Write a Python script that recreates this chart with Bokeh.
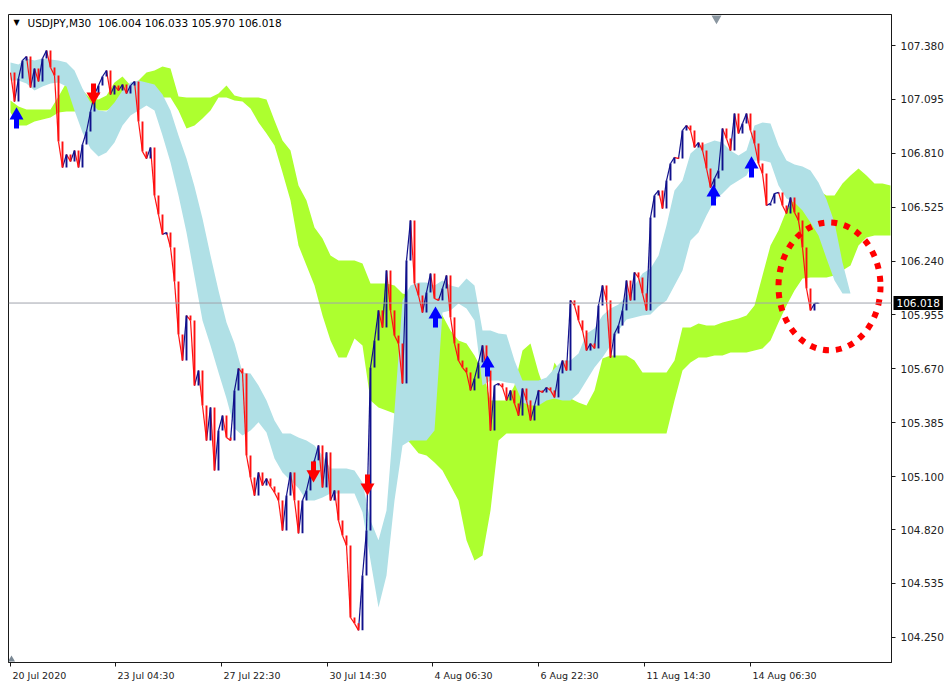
import numpy as np
from bokeh.plotting import figure
from bokeh.models import ColumnDataSource, Range1d, FixedTicker, Span, Label
from bokeh.embed import file_html
from bokeh.resources import INLINE

# ---------------- data ----------------
symbol_text = "USDJPY,M30\u00a0\u00a0106.004 106.033 105.970 106.018"
last_price = 106.018

# close prices, one per bar (bar index 0..202)
closes = [
    107.237, 107.084, 107.206, 107.301, 107.322, 107.158, 107.258, 107.190, 107.311, 107.354,
    107.264, 107.221, 106.872, 106.735, 106.804, 106.767, 106.825, 106.735, 106.857, 106.925,
    107.031, 107.121, 107.168, 107.216, 107.248, 107.121, 107.168, 107.142, 107.174, 107.126,
    107.168, 107.190, 106.978, 106.819, 106.782, 106.841, 106.587, 106.486, 106.381, 106.391,
    106.312, 106.132, 105.852, 105.714, 105.952, 105.926, 105.582, 105.661, 105.476, 105.291,
    105.466, 105.133, 105.344, 105.423, 105.307, 105.291, 105.556, 105.672, 105.646, 105.212,
    105.096, 105.000, 105.122, 105.053, 105.090, 105.048, 105.016, 104.974, 104.815, 105.000,
    105.122, 104.974, 104.800, 104.974, 105.027, 105.117, 105.186, 105.265, 105.043, 105.228,
    104.974, 105.027, 104.868, 104.789, 104.736, 104.355, 104.324, 104.287, 104.577, 104.815,
    105.677, 105.820, 105.979, 105.889, 106.190, 105.979, 105.846, 105.804, 105.593, 106.243,
    106.455, 106.122, 106.058, 105.968, 106.074, 106.174, 106.042, 106.032, 106.095, 106.164,
    105.942, 105.804, 105.714, 105.677, 105.651, 105.556, 105.619, 105.704, 105.794, 105.661,
    105.344, 105.582, 105.593, 105.572, 105.503, 105.556, 105.487, 105.423, 105.566, 105.503,
    105.397, 105.476, 105.556, 105.545, 105.572, 105.556, 105.519, 105.646, 105.714, 105.661,
    106.032, 106.005, 105.926, 105.873, 105.767, 105.804, 105.778, 106.005, 106.111, 106.032,
    105.730, 105.857, 105.899, 105.979, 106.137, 106.032, 106.180, 106.153, 106.069, 105.979,
    106.470, 106.587, 106.613, 106.518, 106.666, 106.756, 106.788, 106.782, 106.931, 106.957,
    106.931, 106.841, 106.867, 106.825, 106.730, 106.629, 106.677, 106.719, 106.941, 106.888,
    106.825, 107.020, 106.915, 106.968, 107.020, 106.931, 106.862, 106.756, 106.703, 106.534,
    106.545, 106.597, 106.603, 106.534, 106.492, 106.576, 106.497, 106.455, 106.312, 106.095,
    105.979, 106.016, 106.018,
]

# cloud lines, one value every 2 bars (bar index 0, 2, 4, ... 220)
blue_top = [
    107.290, 107.280, 107.311, 107.301, 107.311, 107.306, 107.301, 107.290, 107.248, 107.153,
    107.079, 107.036, 107.031, 107.079, 107.142, 107.184, 107.195, 107.184, 107.174, 107.121,
    107.036, 106.904, 106.783, 106.634, 106.465, 106.270, 106.084, 105.915, 105.804, 105.651,
    105.646, 105.582, 105.503, 105.397, 105.328, 105.328, 105.307, 105.291, 105.265, 105.212,
    105.143, 105.143, 105.143, 105.133, 105.069, 104.868, 104.763, 104.921, 105.450, 106.032,
    106.111, 106.127, 106.127, 106.111, 106.137, 106.111, 106.100, 106.148, 106.111, 105.873,
    105.873, 105.857, 105.852, 105.714, 105.609, 105.609, 105.609, 105.624, 105.672, 105.714,
    105.714, 105.751, 105.857, 105.884, 105.952, 105.989, 106.010, 106.053, 106.111, 106.174,
    106.201, 106.270, 106.428, 106.613, 106.666, 106.809, 106.846, 106.862, 106.878, 106.867,
    106.825, 106.798, 106.825, 106.957, 106.973, 106.968, 106.851, 106.772, 106.751, 106.740,
    106.719, 106.656, 106.566, 106.444, 106.233, 106.069, 106.069, 106.069, 106.069, 106.069,
    106.069,
]
blue_bottom = [
    107.195, 107.195, 107.179, 107.142, 107.163, 107.179, 107.184, 107.163, 107.036, 106.920,
    106.835, 106.793, 106.814, 106.867, 106.957, 107.010, 107.036, 107.063, 107.036, 106.904,
    106.761, 106.587, 106.391, 106.159, 105.926, 105.794, 105.651, 105.513, 105.355, 105.318,
    105.344, 105.387, 105.334, 105.196, 105.122, 105.080, 105.038, 104.974, 104.974, 104.990,
    105.011, 105.011, 105.011, 105.011, 104.911, 104.657, 104.408, 104.577, 104.974, 105.265,
    105.291, 105.291, 105.291, 105.344, 105.968, 105.979, 106.016, 105.989, 105.926, 105.582,
    105.609, 105.609, 105.598, 105.593, 105.492, 105.476, 105.476, 105.503, 105.513, 105.503,
    105.503, 105.540, 105.609, 105.677, 105.730, 105.794, 105.873, 105.931, 105.942, 105.952,
    105.958, 106.000, 106.032, 106.111, 106.190, 106.349, 106.391, 106.481, 106.560, 106.597,
    106.640, 106.666, 106.693, 106.772, 106.772, 106.761, 106.640, 106.571, 106.550, 106.508,
    106.444, 106.375, 106.254, 106.137, 106.069, 106.069, 106.069, 106.069, 106.069, 106.069,
    106.069,
]
green_top = [
    107.089, 107.058, 107.042, 107.042, 107.042, 107.042, 107.110, 107.184, 107.216, 107.142,
    107.100, 107.094, 107.116, 107.184, 107.216, 107.168, 107.195, 107.237, 107.248, 107.269,
    107.258, 107.110, 107.105, 107.105, 107.105, 107.105, 107.126, 107.168, 107.116, 107.105,
    107.105, 107.105, 107.094, 106.983, 106.878, 106.825, 106.640, 106.560, 106.418, 106.360,
    106.270, 106.243, 106.243, 106.243, 106.227, 106.122, 106.122, 106.122, 106.111, 106.069,
    106.058, 106.047, 106.042, 106.005, 105.952, 105.873, 105.820, 105.804, 105.741, 105.661,
    105.503, 105.503, 105.503, 105.582, 105.767, 105.804, 105.651, 105.529, 105.704, 105.635,
    105.513, 105.492, 105.476, 105.556, 105.725, 105.741, 105.741, 105.741, 105.714, 105.651,
    105.651, 105.651, 105.651, 105.714, 105.889, 105.889, 105.910, 105.899, 105.899, 105.915,
    105.926, 105.936, 105.952, 106.005, 106.164, 106.322, 106.402, 106.508, 106.571, 106.587,
    106.603, 106.613, 106.587, 106.587, 106.650, 106.693, 106.730, 106.693, 106.650, 106.650,
    106.640,
]
green_bottom = [
    107.026, 106.957, 106.957, 106.978, 106.989, 106.999, 107.026, 107.031, 107.031, 107.036,
    107.036, 107.036, 107.036, 107.058, 107.105, 107.105, 107.105, 107.105, 107.105, 107.105,
    107.105, 107.036, 106.941, 106.957, 106.994, 107.036, 107.105, 107.105, 107.089, 107.084,
    107.047, 106.973, 106.915, 106.851, 106.709, 106.560, 106.322, 106.217, 106.111, 105.952,
    105.820, 105.730, 105.730, 105.831, 105.794, 105.503, 105.466, 105.450, 105.434, 105.318,
    105.275, 105.223, 105.212, 105.175, 105.133, 105.053, 104.974, 104.763, 104.657, 104.683,
    104.921, 105.291, 105.328, 105.328, 105.328, 105.328, 105.328, 105.328, 105.328, 105.328,
    105.328, 105.328, 105.328, 105.328, 105.328, 105.328, 105.328, 105.328, 105.328, 105.328,
    105.328, 105.328, 105.328, 105.503, 105.661, 105.704, 105.730, 105.730, 105.741, 105.741,
    105.757, 105.757, 105.757, 105.767, 105.778, 105.820, 105.915, 106.005, 106.084, 106.148,
    106.153, 106.153, 106.153, 106.164, 106.190, 106.217, 106.322, 106.365, 106.375, 106.375,
    106.375,
]

# signal arrows: bar index and price at arrow tip
buy_bars = [1.5, 106.25, 119.25, 175.75, 185.25]
buy_prices = [107.042, 105.989, 105.730, 106.634, 106.783]
sell_bars = [20.75, 75.75, 89.25]
sell_prices = [107.079, 105.080, 105.011]

# annotation circle (bar index / price)
circle_bar, circle_price = 204.75, 106.106
circle_w_bars, circle_h_price = 25.5, 0.677

# axis ticks
price_ticks = [104.250, 104.535, 104.820, 105.100, 105.385, 105.670,
               105.955, 106.240, 106.525, 106.810, 107.095, 107.380]
date_ticks = [0, 26.25, 52.75, 79.25, 105.5, 132, 158.5, 185]
date_labels = ["20 Jul 2020", "23 Jul 04:30", "27 Jul 22:30", "30 Jul 14:30",
               "4 Aug 06:30", "6 Aug 22:30", "11 Aug 14:30", "14 Aug 06:30"]
shift_bar = 176.5

# ---------------- styling ----------------
UP = "#10108c"
DOWN = "#ff1010"
BLUE_CLOUD = "#b0e0e6"
GREEN_CLOUD = "#adff2f"
FONT = "DejaVu Sans"
AX = "#1a1a1a"
DATE_FS = 9.5

X0, X1 = -0.5, 220.25
Y0, Y1 = 104.117, 107.544
FW, FH = 883, 648
ppx = (Y1 - Y0) / FH          # price per screen pixel
bpx = (X1 - X0) / FW          # bars per screen pixel

p = figure(frame_width=FW, frame_height=FH, output_backend="svg", toolbar_location=None,
           x_range=Range1d(X0, X1), y_range=Range1d(Y0, Y1),
           x_axis_location="below", y_axis_location="right",
           min_border_left=8, min_border_top=14, min_border_bottom=0, min_border_right=2,
           background_fill_color="white", border_fill_color="white")
p.grid.visible = False
p.outline_line_color = AX
p.outline_line_width = 1

# right price axis
ya = p.yaxis[0]
ya.ticker = FixedTicker(ticks=price_ticks)
ya.major_label_overrides = {t: f"{t:.3f}" for t in price_ticks}
ya.major_label_text_font = FONT
ya.major_label_text_font_size = "10.5px"
ya.major_label_text_color = "#222222"
ya.major_tick_in = 0
ya.major_tick_out = 4
ya.major_label_standoff = 5
ya.minor_tick_line_color = None
ya.axis_line_color = AX
ya.major_tick_line_color = AX

# bottom time axis: tick marks at the dates (minor ticks), left-aligned labels
# (labels are centred by Bokeh, so they sit half a label width to the right)
CW = {"0": .636, "1": .636, "2": .636, "3": .636, "4": .636, "5": .636, "6": .636,
      "7": .636, "8": .636, "9": .636, " ": .318, ":": .337, "J": .295, "u": .634,
      "l": .278, "A": .684, "g": .635}
def text_w(s, fs):
    return sum(CW.get(ch, 0.6) for ch in s) * fs
label_pos = [round(t + (2 + text_w(lab, DATE_FS) / 2) * bpx, 4)
             for t, lab in zip(date_ticks, date_labels)]
xa = p.xaxis[0]
xa.ticker = FixedTicker(ticks=label_pos, minor_ticks=date_ticks)
xa.major_label_overrides = {pos: lab for pos, lab in zip(label_pos, date_labels)}
xa.major_label_text_font = FONT
xa.major_label_text_font_size = f"{DATE_FS}px"
xa.major_label_text_color = "#222222"
xa.major_tick_line_color = None
xa.major_tick_in = 0
xa.major_tick_out = 4
xa.major_label_standoff = 3
xa.minor_tick_in = 0
xa.minor_tick_out = 4
xa.minor_tick_line_color = AX
xa.axis_line_color = AX

# clouds
cloud_x = np.arange(len(blue_top)) * 2
p.varea(x=cloud_x, y1=green_top, y2=green_bottom, fill_color=GREEN_CLOUD, fill_alpha=1)
p.varea(x=cloud_x, y1=blue_top, y2=blue_bottom, fill_color=BLUE_CLOUD, fill_alpha=1)

# bid line
p.add_layout(Span(location=last_price, dimension="width", line_color="#a0a4ac", line_width=1))

# price bars: open = previous close
c = np.array(closes)
bars = np.arange(len(c))
cols = [UP if b >= a else DOWN for a, b in zip(c[:-1], c[1:])]
src = ColumnDataSource(dict(x0=bars[:-1], x1=bars[1:], y0=c[:-1], y1=c[1:], col=cols))
p.segment(x0="x0", y0="y0", x1="x1", y1="y1", line_color="col", line_width=1.2, source=src)
p.segment(x0="x1", y0="y0", x1="x1", y1="y1", line_color="col", line_width=1.9, source=src)

# arrows
bb = np.array(buy_bars); bp = np.array(buy_prices)
p.rect(x=bb, y=bp - 14 * ppx, width=5, height=10, width_units="screen", height_units="screen",
       fill_color="#0000ff", line_color=None)
p.scatter(x=bb, y=bp - 6 * ppx, marker="triangle", size=14, fill_color="#0000ff", line_color=None)
sb = np.array(sell_bars); sp = np.array(sell_prices)
p.rect(x=sb, y=sp + 14 * ppx, width=5, height=10, width_units="screen", height_units="screen",
       fill_color="#ff0000", line_color=None)
p.scatter(x=sb, y=sp + 6 * ppx, marker="inverted_triangle", size=14, fill_color="#ff0000", line_color=None)

# dotted red circle
p.ellipse(x=[circle_bar], y=[circle_price], width=[circle_w_bars], height=[circle_h_price],
          fill_color=None, line_color="#ff0000", line_width=6, line_dash="6 7")

# chart shift marker and corner marker
p.scatter(x=[shift_bar], y=[Y1 - 4 * ppx], marker="inverted_triangle", size=10,
          fill_color="#8a96a0", line_color=None)
p.scatter(x=[X0 + 3 * bpx], y=[Y0 + 3 * ppx], marker="triangle", size=7,
          fill_color="#7a8894", line_color=None)

# header
p.add_layout(Label(x=X0, y=Y1, x_offset=5, y_offset=-8, text="\u25bc", text_font=FONT,
                   text_font_size="8px", text_color="#000000", text_baseline="middle"))
p.add_layout(Label(x=X0, y=Y1, x_offset=19, y_offset=-8, text=symbol_text, text_font=FONT,
                   text_font_size="10.5px", text_color="#000000", text_baseline="middle"))

# current price tag (placed in a side panel so it is not clipped to the frame)
tag = Label(x=X1, y=last_price, x_offset=2, y_offset=0, text=f"{last_price:.3f}",
            text_font=FONT, text_font_size="10.5px", text_color="white",
            background_fill_color="black", text_align="left", text_baseline="middle",
            padding=3)
p.add_layout(tag, "above")

open("out.html", "w").write(file_html(p, INLINE))
